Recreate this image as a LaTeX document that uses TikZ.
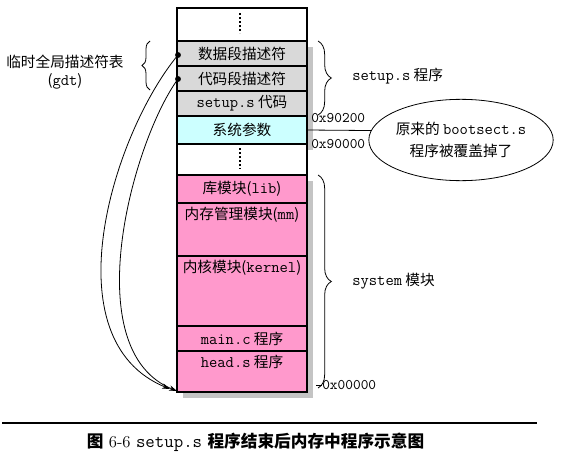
\documentclass[tikz,border=0pt]{standalone}
\usepackage{fontspec}
\setmonofont{Latin Modern Mono}[Scale=1.1]
\newfontfamily\cjk{Noto Sans CJK SC}
\usetikzlibrary{decorations.pathreplacing,arrows.meta,shapes.geometric}
\definecolor{descgray}{HTML}{D9D9D9}
\definecolor{paramcyan}{HTML}{CCFFFF}
\definecolor{modpink}{HTML}{FF99CC}
\definecolor{shadowgray}{HTML}{C4C4C4}
\tikzset{
  memrow/.style={draw, line width=0.8pt, minimum width=97.5pt, inner sep=0pt, outer sep=0pt, font=\fontsize{11}{13}\selectfont\cjk},
  lbl/.style={inner sep=0pt, font=\fontsize{11}{13}\selectfont\cjk},
  hexlbl/.style={inner sep=0pt, anchor=west, font=\fontsize{10}{12}\selectfont\ttfamily},
  bracedeco/.style={decorate, decoration={brace, amplitude=#1}, line width=0.6pt},
  vdots/.style={line width=1.3pt, dash pattern=on 1.3pt off 1.7pt},
  gdtarrow/.style={-{Stealth[length=6pt,width=4pt]}, line width=0.6pt},
}
\begin{document}
\begin{tikzpicture}[x=0.75pt, y=-0.75pt]
      \useasboundingbox (0,0) rectangle (571,464);
      % shadows behind the memory map
      \fill[shadowgray] (183,47) rectangle (313,150);
      \fill[shadowgray] (183,181) rectangle (313,398);
      % memory rows
      \node[memrow, fill=white, minimum height=24.75pt] (top) at (242,24.5) {};
      \node[memrow, fill=descgray, minimum height=18.75pt] (gdata) at (242,53.5) {数据段描述符};
      \node[memrow, fill=descgray, minimum height=18.75pt] (gcode) at (242,78.5) {代码段描述符};
      \node[memrow, fill=descgray, minimum height=18.75pt] (setup) at (242,103.5) {{\ttfamily setup.s} 代码};
      \node[memrow, fill=paramcyan, minimum height=21pt] (sysparam) at (242,130) {系统参数};
      \node[memrow, fill=white, minimum height=23.25pt] (gap) at (242,159.5) {};
      \node[memrow, fill=modpink, minimum height=21pt] (lib) at (242,189) {库模块({\ttfamily lib})};
      \node[memrow, fill=modpink, minimum height=39.75pt] (mm) at (242,229.5) {};
      \node[memrow, fill=modpink, minimum height=52.5pt] (kernel) at (242,291) {};
      \node[memrow, fill=modpink, minimum height=18.75pt] (mainc) at (242,338.5) {{\ttfamily main.c} 程序};
      \node[memrow, fill=modpink, minimum height=30.75pt] (heads) at (242,371.5) {};
      \node[lbl] (mmtext) at (242,215) {内存管理模块({\ttfamily mm})};
      \node[lbl] (kerneltext) at (242,268) {内核模块({\ttfamily kernel})};
      \node[lbl] (headstext) at (242,362) {{\ttfamily head.s} 程序};
      \draw[line width=1.5pt] (top.north west) rectangle (heads.south east);
      \draw[vdots] (240,13) -- (240,33);
      \draw[vdots] (240,148) -- (240,169);
      % gdt pointers
      \coordinate (gdtdata) at (178,55);
      \coordinate (gdtcode) at (178,79);
      \coordinate (endouter) at (170,389);
      \coordinate (endinner) at (177,391);
      \fill (gdtdata) circle (2.2pt);
      \fill (gdtcode) circle (2.2pt);
      \draw[gdtarrow] (gdtdata) .. controls (112,135) and (50,340) .. (endouter);
      \draw[gdtarrow] (gdtcode) .. controls (132,142) and (76,350) .. (endinner);
      % braces and labels
      \draw[bracedeco=6pt] (150,90) -- (150,41);
      \draw[bracedeco=10pt] (318,41) -- (318,115);
      \draw[bracedeco=10pt] (318,175) -- (318,388);
      \node[lbl] (gdtname) at (65,62) {临时全局描述符表};
      \node[lbl] (gdtabbr) at (65,81) {({\ttfamily gdt})};
      \node[lbl, anchor=west] (setupname) at (352,76) {{\ttfamily setup.s} 程序};
      \node[lbl, anchor=west] (sysname) at (352,281) {{\ttfamily system} 模块};
      \node[hexlbl] (addrA) at (311,118) {0x90200};
      \node[hexlbl] (addrB) at (311,144) {0x90000};
      \node[hexlbl] (addrC) at (322,385) {0x00000};
      \draw (addrC.west) -- ++(-6,0);
      \node[draw, ellipse, line width=0.6pt, minimum width=111pt, minimum height=61pt, inner sep=0pt, align=center, font=\fontsize{11}{16}\selectfont\cjk] (note) at (461,140) {原来的 {\ttfamily bootsect.s}\\程序被覆盖掉了};
      \draw[line width=0.6pt] (sysparam.east) -- (note.174);
      % caption
      \draw[line width=1.2pt] (2,423) -- (537,423);
      \node[inner sep=0pt, font=\fontsize{12.5}{14}\selectfont] (caption) at (255.5,442) {{\cjk\bfseries 图} 6-6 {\ttfamily setup.s} {\cjk\bfseries 程序结束后内存中程序示意图}};
\end{tikzpicture}
\end{document}
